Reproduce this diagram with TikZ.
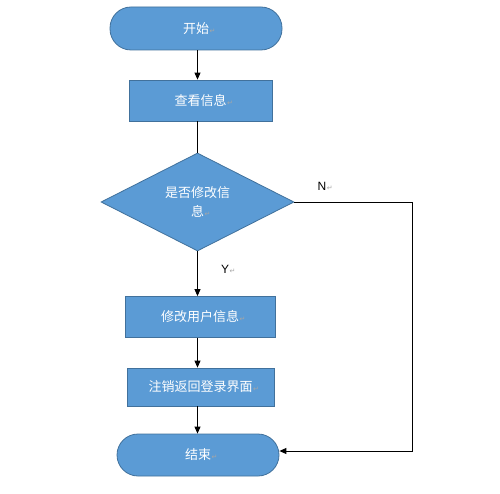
\documentclass[tikz,border=0pt]{standalone}
\usepackage{fontspec}
\setmainfont{Liberation Sans}
\newfontfamily\cjk{Noto Sans CJK SC}
\newfontfamily\markfont{DejaVu Sans}
\usetikzlibrary{shapes.geometric,arrows.meta}
\definecolor{boxfill}{HTML}{5B9BD5}
\definecolor{boxline}{HTML}{41719C}
\newcommand{\parmark}{\rlap{\kern0.5pt\markfont\fontsize{7}{8}\selectfont\textcolor{black!35}{↵}}}
\tikzset{
  base/.style={fill=boxfill,draw=boxline,line width=0.8pt,text=white,font=\cjk\fontsize{13}{19}\selectfont,inner sep=0pt},
  terminal/.style={base,rectangle,rounded corners=21pt,minimum width=#1,minimum height=43pt},
  process/.style={base,rectangle,minimum width=#1,minimum height=41pt},
  decision/.style={base,diamond,shape aspect=2,minimum width=193pt,minimum height=98pt,align=center},
  arr/.style={-{Triangle[length=7pt,width=6pt]},line width=0.9pt,black},
  lbl/.style={font=\fontsize{12}{14}\selectfont,text=black,inner sep=0pt}
}
\begin{document}
\begin{tikzpicture}[x=1pt,y=-1pt]
\useasboundingbox (0,0) rectangle (500,494);
\node[terminal=172pt] (start) at (196,28.5) {开始\parmark};
\node[process=143pt] (view) at (200.5,100.5) {查看信息\parmark};
\node[decision] (dec) at (197.5,202) {是否修改信\\息\parmark};
\node[process=150pt] (edit) at (200,317) {修改用户信息\parmark};
\node[process=147pt,minimum height=38pt] (logout) at (200.5,387) {注销返回登录界面\parmark};
\node[terminal=162pt,minimum height=42pt] (end) at (198,455) {结束\parmark};
\coordinate (ncorner) at (412,202);
\node[lbl] (nlab) at (322,186) {N\parmark};
\node[lbl] (ylab) at (225,269) {Y\parmark};
\draw[arr] (start.south -| dec.north) -- (view.north -| dec.north);
\draw[line width=0.9pt] (view.south -| dec.north) -- (dec.north);
\draw[arr] (dec.south) -- (edit.north -| dec.south);
\draw[arr] (edit.south -| dec.south) -- (logout.north -| dec.south);
\draw[arr] (logout.south -| dec.south) -- (end.north -| dec.south);
\draw[arr] (dec.east) -- (ncorner) |- ([yshift=4pt]end.east);
\end{tikzpicture}
\end{document}
